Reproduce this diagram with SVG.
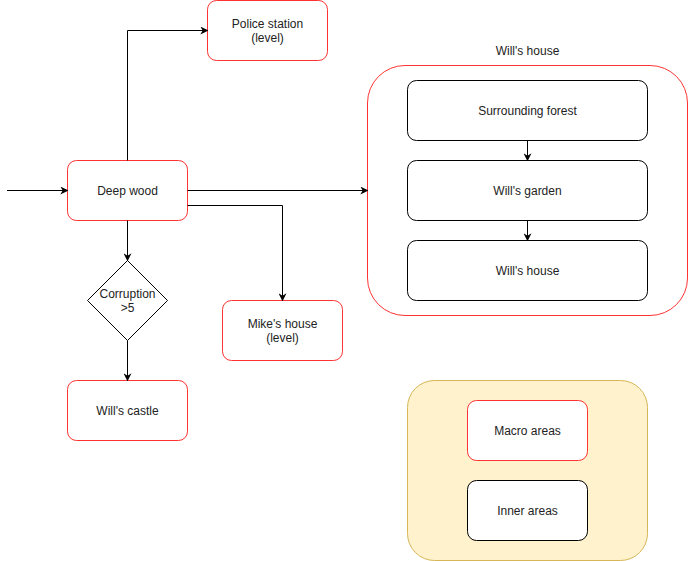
<svg xmlns="http://www.w3.org/2000/svg" width="688" height="561" viewBox="0 0 688 561">
<defs>
<marker id="arr" viewBox="0 0 10 10" refX="9" refY="5" markerWidth="8" markerHeight="8" markerUnits="userSpaceOnUse" orient="auto">
<path d="M0,0 L10,5 L0,10 L3,5 Z" fill="#000"/>
</marker>
<style>
.red{fill:#fff;stroke:#ff3333;stroke-width:1}
.blk{fill:#fff;stroke:#000;stroke-width:1}
.leg{fill:#fff2cc;stroke:#d6b656;stroke-width:1}
.edge{fill:none;stroke:#000;stroke-width:1;marker-end:url(#arr)}
text{font-family:"Liberation Sans",Arial,sans-serif;font-size:12px;fill:#222;text-anchor:middle}
</style>
</defs>
<rect width="688" height="561" fill="#fff"/>
<g id="police-station">
<rect class="red" x="207.5" y="0.5" width="120" height="60" rx="9"/>
<text x="267.5" y="28">Police station</text>
<text x="267.5" y="42">(level)</text>
</g>
<g id="deep-wood">
<rect class="red" x="67.5" y="160.5" width="120" height="60" rx="9"/>
<text x="127.5" y="194.5">Deep wood</text>
</g>
<g id="corruption">
<path class="blk" d="M127.5,260.5 L167.5,300.5 L127.5,340.5 L87.5,300.5 Z"/>
<text x="127.5" y="298">Corruption</text>
<text x="127.5" y="312">&gt;5</text>
</g>
<g id="wills-castle">
<rect class="red" x="67.5" y="380.5" width="120" height="60" rx="9"/>
<text x="127.5" y="414.5">Will's castle</text>
</g>
<g id="mikes-house">
<rect class="red" x="222.5" y="300.5" width="120" height="60" rx="9"/>
<text x="282.5" y="328">Mike's house</text>
<text x="282.5" y="342">(level)</text>
</g>
<g id="wills-house-container">
<rect class="red" x="367.5" y="65.5" width="320" height="250" rx="37.5"/>
<text x="527.5" y="55">Will's house</text>
</g>
<g id="surrounding-forest">
<rect class="blk" x="407.5" y="80.5" width="240" height="60" rx="9"/>
<text x="527.5" y="114.5">Surrounding forest</text>
</g>
<g id="wills-garden">
<rect class="blk" x="407.5" y="160.5" width="240" height="60" rx="9"/>
<text x="527.5" y="194.5">Will's garden</text>
</g>
<g id="wills-house">
<rect class="blk" x="407.5" y="240.5" width="240" height="60" rx="9"/>
<text x="527.5" y="274.5">Will's house</text>
</g>
<g id="legend">
<rect class="leg" x="407.5" y="380.5" width="240" height="180" rx="27"/>
</g>
<g id="macro-areas">
<rect class="red" x="467.5" y="400.5" width="120" height="60" rx="9"/>
<text x="527.5" y="434.5">Macro areas</text>
</g>
<g id="inner-areas">
<rect class="blk" x="467.5" y="480.5" width="120" height="60" rx="9"/>
<text x="527.5" y="514.5">Inner areas</text>
</g>
<g id="connectors">
<path class="edge" d="M7,190.5 L67.5,190.5"/>
<path class="edge" d="M127.5,160.5 L127.5,30.5 L207.5,30.5"/>
<path class="edge" d="M187.5,190.5 L367.5,190.5"/>
<path class="edge" d="M187.5,205.5 L282.5,205.5 L282.5,300.5"/>
<path class="edge" d="M127.5,220.5 L127.5,260.5"/>
<path class="edge" d="M127.5,340.5 L127.5,380.5"/>
<path class="edge" d="M527.5,140.5 L527.5,160.5"/>
<path class="edge" d="M527.5,220.5 L527.5,240.5"/>
</g>
</svg>
